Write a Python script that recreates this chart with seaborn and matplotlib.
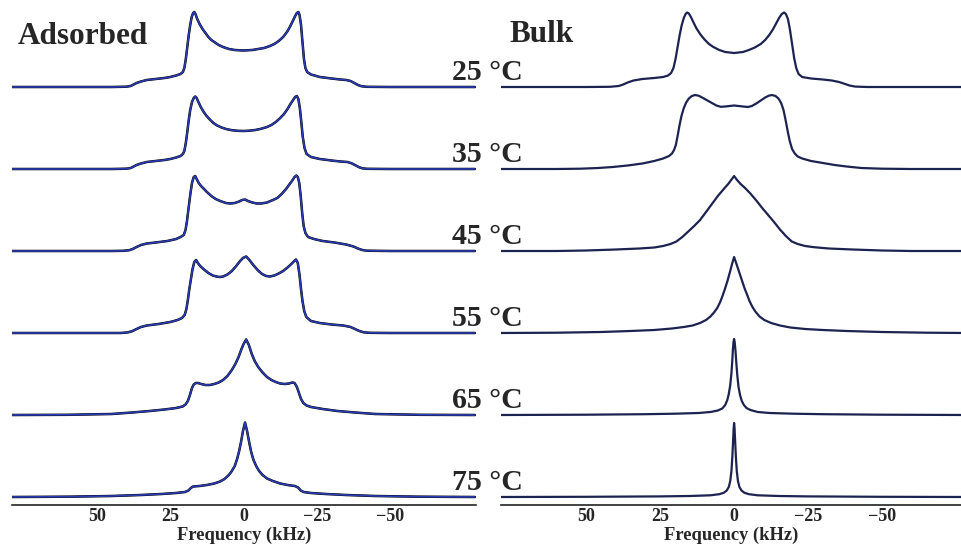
import matplotlib
matplotlib.use("Agg")
import matplotlib.pyplot as plt
import seaborn as sns
import pandas as pd

# ---------------- data ----------------
temps = ["25 °C", "35 °C", "45 °C", "55 °C", "65 °C", "75 °C"]
tick_values = [50, 25, 0, -25, -50]
tick_labels = ["50", "25", "0", "\u221225", "\u221250"]

# Adsorbed spectra: frequency (kHz) and intensity (arb.)
ads_f_25 = [79, 60, 45, 40, 38.5, 37.5, 36.5, 35, 33, 30, 27, 25, 23, 21.5, 20.7, 20.2, 19.7, 19.2, 18.7, 18.2, 17.7,
            17.2, 16.8, 16.4, 15.8, 15, 14, 13, 12, 11, 10, 8.5, 7, 5, 3, 0,
            -3, -5, -7, -9, -10.5, -12, -13.5, -14.8, -15.8, -16.8, -17.6, -18.2, -18.7, -19.1, -19.6, -20.1,
            -20.6, -21.1, -21.7, -23, -26, -30, -33, -35, -36.5, -37.8, -39, -40.2, -42, -50, -79]
ads_i_25 = [0, 0, 0, 0.3, 1, 2.5, 4, 5.5, 7, 8, 9, 10, 11.5, 13, 15, 19, 28, 40, 52, 62, 70,
            74, 75, 73, 68, 63, 58, 54, 50, 47, 45, 42, 40, 38, 37, 36.5,
            37, 38, 39, 41, 43, 46, 50, 55, 60, 66, 71, 74, 75, 72, 62, 45,
            28, 19, 15, 12.5, 10, 8.5, 7.5, 7, 6, 4, 2, 0.8, 0.2, 0, 0]
ads_f_35 = [79, 60, 45, 40, 38.5, 37.5, 36.5, 35, 33, 30, 27, 25, 23, 21.5, 20.7, 20.2, 19.7, 19.2, 18.7, 18.2, 17.6,
            17, 16.5, 16, 15.4, 14.6, 13.6, 12.6, 11.5, 10.3, 9, 7.5, 6, 4, 2, 0,
            -2, -4, -6, -8, -9.5, -11, -12.5, -13.8, -15, -16, -16.9, -17.6, -18.2, -18.7, -19.2, -19.7,
            -20.2, -20.8, -21.5, -23, -26, -30, -33, -35.5, -37, -38.3, -39.4, -40.5, -42, -50, -79]
ads_i_35 = [0, 0, 0, 0.3, 1, 2.5, 4, 5.5, 7, 8, 9, 10, 11.5, 13, 15, 18, 26, 37, 49, 59, 67,
            71, 72.5, 71, 67, 62, 57, 53, 49.5, 46, 43.5, 41.5, 40, 38.8, 38.2, 38,
            38.3, 39, 40.2, 42, 44, 47, 51, 55, 60, 65, 69, 72, 73, 70, 61, 47,
            32, 21, 15, 12, 10, 8.5, 7.5, 7, 5.5, 3.5, 1.8, 0.7, 0.2, 0, 0]
ads_f_45 = [79, 60, 45, 41, 39, 37.8, 36.5, 35, 33, 30, 26, 23, 21.5, 20.4, 19.8, 19.3, 18.8, 18.2, 17.6, 17,
            16.5, 16, 15.3, 14.5, 13.5, 12.5, 11, 9.5, 8, 6, 4.5, 3, 1.5, 0.5,
            -0.5, -1.5, -3, -4.5, -6, -8, -10, -11.5, -13, -14.5, -15.5, -16.5, -17.4, -18, -18.5, -19, -19.5,
            -20, -20.5, -21.1, -22, -24, -27, -31, -35, -37.5, -39, -40.5, -42, -50, -79]
ads_i_45 = [0, 0, 0, 0.2, 0.8, 2, 4, 6, 7.5, 8.5, 10, 12, 14, 16, 21, 30, 42, 56, 68, 74,
            75, 72, 68, 65, 62, 59, 55, 52, 50, 48, 47.5, 48, 49.5, 51,
            51.5, 50, 48.5, 47.5, 47.5, 48.5, 51, 53, 57, 62, 66, 70, 74, 75.5, 74, 68, 55,
            38, 25, 18, 14, 12, 10, 8.5, 6.5, 4.5, 2.5, 1, 0.3, 0, 0]
ads_f_55 = [79, 60, 45, 42, 39.5, 38, 36.5, 35, 33, 29, 25, 22.5, 21, 20.1, 19.5, 19, 18.5, 17.9, 17.4, 16.8,
            16.2, 15.6, 14.8, 13.5, 12, 10.5, 9, 8, 7, 5.5, 4, 2.5, 1.2, 0.2, -0.9,
            -2, -3.3, -4.8, -6.3, -7.7, -9, -10.5, -12, -13.5, -15, -16.3, -17.3, -17.9, -18.5, -19.1, -19.6,
            -20.1, -20.7, -21.4, -23, -26, -30, -34, -36.5, -38, -39.5, -41, -43, -50, -79]
ads_i_55 = [0, 0, 0, 0, 0.6, 1.8, 4, 6, 7.5, 9, 11, 13, 15, 18, 24, 33, 44, 55, 64, 71,
            73, 70, 67, 63.5, 60, 57.5, 56.3, 56, 56.5, 58.5, 62, 67, 72, 75, 76.5,
            73, 68, 63, 59, 57, 56.5, 57.5, 59.5, 62, 65.5, 69, 72, 73.5, 70, 58, 44,
            32, 22, 16, 12, 10, 8.5, 7.5, 6, 4, 2, 0.7, 0.2, 0, 0]
ads_f_65 = [79, 60, 45, 38, 32, 27, 23, 20.8, 19.8, 19, 18.3, 17.6, 17, 16.3, 15.5, 14.5, 13, 11.5, 10, 8.5,
            7, 5.5, 4, 2.8, 1.7, 0.7, 0, -0.9, -1.8, -2.8, -3.8, -5, -6.5, -8, -9.5, -11, -12.5, -14,
            -15.5, -16.6, -17.4, -18.2, -18.9, -19.6, -20.4, -21.5, -23, -27, -32, -38, -45, -60, -79]
ads_i_65 = [0, 0.2, 1, 2.5, 4, 5.5, 7, 8.5, 10.5, 14, 20, 27, 30.5, 32, 32, 31, 30, 30, 31, 32.5,
            35, 39, 45, 51, 58, 66, 71, 75.5, 70, 61, 54, 48, 42.5, 38, 35, 33, 31.5, 31,
            31.5, 32.5, 32, 28, 22, 16, 12, 9.5, 8, 6, 4, 2.5, 1, 0.2, 0]
ads_f_75 = [79, 60, 45, 35, 28, 23, 20, 18.8, 18, 17.2, 15, 12.5, 10, 8, 6.5, 5, 4, 3, 2.2, 1.5, 0.8, 0.2,
            -0.5, -1.2, -1.9, -2.6, -3.4, -4.3, -5.3, -6.5, -8, -10, -12.5, -15, -17.5, -18.6, -19.5,
            -20.5, -23, -28, -35, -45, -60, -79]
ads_i_75 = [0, 0.3, 1, 2, 3, 4, 5, 6.5, 9, 10.5, 11, 12, 13.5, 15.5, 18, 22, 26, 31, 38, 46, 56, 66,
            74.5, 66, 55, 45, 37, 31, 26, 22, 18.5, 16, 13.5, 12, 11, 9.5, 6.5,
            5, 4, 3, 2, 1, 0.3, 0]

# Bulk spectra
blk_f_25 = [79, 50, 42, 39, 37.5, 36, 34, 31, 27, 24, 22.3, 21.3, 20.5, 19.8, 19.1, 18.4, 17.7, 17, 16.4, 15.9,
            15.3, 14.6, 13.8, 12.8, 11.5, 10, 8.5, 7, 5, 3, 0,
            -3, -5, -7, -9, -10.5, -12, -13.2, -14.2, -15.2, -16.1, -16.9, -17.5, -18.2, -18.9, -19.6, -20.3,
            -21, -21.8, -23, -26, -30, -33, -35.5, -37.5, -39, -41, -45, -79]
blk_i_25 = [0, 0, 0.2, 1, 2.5, 4.5, 6.5, 8, 9, 10, 11.5, 14, 19, 28, 40, 52, 62, 69, 73, 74.5,
            73.5, 70, 65, 59, 53, 47.5, 43, 40, 37, 35, 34,
            35, 37, 39.5, 43, 47, 52.5, 58, 63.5, 69, 73, 74.5, 73, 68, 57, 43, 29,
            19, 13, 10, 8.5, 7.5, 6.5, 5, 3, 1.5, 0.4, 0, 0]
blk_f_35 = [79, 60, 52, 46, 41, 36, 31, 27, 24, 22, 21, 20.3, 19.7, 19.1, 18.5, 17.8, 17, 16.2, 15.3, 14.3,
            13.2, 12, 10.5, 9, 7.5, 6, 4.5, 3, 1.5, 0, -1.5, -3, -4.7, -6, -7.5, -9, -10.5, -11.7, -12.8,
            -14, -15, -15.9, -16.7, -17.4, -18.1, -18.8, -19.6, -20.5, -21.5, -23, -26, -30, -34, -38, -43,
            -50, -60, -79]
blk_i_35 = [0, 0, 0.3, 1, 2, 3.5, 5.5, 8, 10.5, 13, 15.5, 19, 24, 33, 43, 53, 61, 66.5, 70.5, 73,
            74, 73.3, 71, 68.5, 66, 63.5, 62.2, 62.5, 63, 63.5, 63, 62.5, 62, 63, 65.5, 68.5, 71.5, 73.3, 74,
            73, 70.5, 66, 59, 49, 38, 28, 20, 15.5, 12.5, 10.5, 8, 6, 4, 2.5, 1,
            0.3, 0, 0]
blk_f_45 = [79, 60, 50, 40, 32, 27, 24, 21.5, 19.5, 17.5, 15.5, 13.5, 11.5, 9.5, 7.5, 5.5, 3.5, 2, 1, 0,
            -1, -2.2, -3.7, -5.5, -7.5, -9.5, -11.5, -13.5, -15.5, -17.5, -19.5, -21.5, -24, -27, -32, -40,
            -50, -60, -79]
blk_i_45 = [0, 0, 0.5, 1.5, 2.5, 3.5, 5, 7, 9.5, 14, 19.5, 25, 31, 39, 47, 55, 62, 67, 71, 75,
            71, 67, 63, 57.5, 50.5, 43, 36, 29, 21.5, 15, 9.5, 7, 5, 3.8, 2.5, 1.5,
            0.5, 0, 0]
blk_f_55 = [79, 60, 45, 35, 27, 21, 17, 14, 11.5, 9.5, 8, 6.8, 5.7, 4.7, 3.8, 3, 2.2, 1.4, 0.7, 0,
            -0.8, -1.7, -2.6, -3.5, -4.3, -5.2, -6.2, -7.3, -8.6, -10.2, -12.5, -15.5, -19, -24, -30, -38,
            -50, -65, -79]
blk_i_55 = [0, 0.3, 1, 2, 3, 4.5, 6, 7.5, 10, 13, 16.5, 20.5, 25, 31, 38, 45, 52.5, 61, 69, 76,
            69, 61, 53, 45, 39, 32, 26, 21, 16.5, 13, 10, 7.5, 5.5, 4, 3, 2,
            1, 0.3, 0]
blk_f_65 = [79, 50, 30, 20, 12, 8, 5.5, 4, 3, 2.3, 1.8, 1.3, 0.9, 0.6, 0.4, 0.2, 0, -0.2, -0.5, -0.8,
            -1.1, -1.5, -2, -2.6, -3.3, -4.2, -5.5, -8, -12, -20, -30, -50, -79]
blk_i_65 = [0, 0.3, 0.8, 1.3, 2, 3, 4.5, 6.5, 10, 15, 21, 30, 42, 55, 66, 73, 76, 73, 63, 50,
            39, 28, 20, 14, 10, 7, 5, 3, 2, 1.3, 0.8, 0.3, 0]
blk_f_75 = [79, 50, 25, 15, 8, 5, 3.5, 2.5, 1.8, 1.3, 0.9, 0.6, 0.35, 0.15, 0, -0.15, -0.35, -0.6, -0.9,
            -1.3, -1.8, -2.5, -3.5, -5, -8, -15, -25, -50, -79]
blk_i_75 = [0, 0.2, 0.6, 1, 1.7, 2.8, 4.2, 6.5, 10, 16, 26, 40, 56, 69, 74, 69, 56, 40, 26,
            16, 10, 6.5, 4.2, 2.8, 1.7, 1, 0.6, 0.2, 0]

ads_f = [ads_f_25, ads_f_35, ads_f_45, ads_f_55, ads_f_65, ads_f_75]
ads_i = [ads_i_25, ads_i_35, ads_i_45, ads_i_55, ads_i_65, ads_i_75]
blk_f = [blk_f_25, blk_f_35, blk_f_45, blk_f_55, blk_f_65, blk_f_75]
blk_i = [blk_i_25, blk_i_35, blk_i_45, blk_i_55, blk_i_65, blk_i_75]

# ---------------- layout ----------------
W, H = 961, 548
SPACING = 82.0
BASE = 8.0


def build(fs, ins):
    rows = []
    for k, (f, v) in enumerate(zip(fs, ins)):
        off = BASE + (len(fs) - 1 - k) * SPACING
        for a, b in zip(f, v):
            rows.append({"f": a, "y": b + off, "temp": temps[k]})
    return pd.DataFrame(rows)


df_ads = build(ads_f, ads_i)
df_blk = build(blk_f, blk_i)

sns.set_style("white")
plt.rcParams["font.family"] = ["Liberation Serif", "DejaVu Serif"]
plt.rcParams["font.weight"] = "bold"

fig = plt.figure(figsize=(W / 100, H / 100), dpi=100)
ax1 = fig.add_axes([12 / W, 43 / H, 464 / W, 505 / H])
ax2 = fig.add_axes([501 / W, 43 / H, 460 / W, 505 / H])

sns.lineplot(data=df_ads, x="f", y="y", units="temp", estimator=None, sort=False,
             color="black", linewidth=1.8, ax=ax1)
sns.lineplot(data=df_ads, x="f", y="y", units="temp", estimator=None, sort=False,
             color="#2a3cb4", linewidth=1.2, ax=ax1)
sns.lineplot(data=df_blk, x="f", y="y", units="temp", estimator=None, sort=False,
             color="#1c2350", linewidth=1.6, ax=ax2)

ax1.set_xlim(79, -79.3)
ax2.set_xlim(78.8, -76.7)
for ax in (ax1, ax2):
    ax.set_ylim(0, 505)
    ax.set_facecolor("none")
    for s in ("left", "right", "top"):
        ax.spines[s].set_visible(False)
    ax.spines["bottom"].set_color("#222222")
    ax.spines["bottom"].set_linewidth(1.2)
    ax.set_yticks([])
    ax.set_ylabel("")
    ax.set_xticks(tick_values)
    ax.set_xticklabels(tick_labels, fontsize=13, fontweight="bold")
    ax.tick_params(axis="x", direction="in", length=5, width=1.0, color="#222222", pad=2.5)
    ax.set_xlabel("Frequency (kHz)", fontsize=13.3, fontweight="bold")
    ax.xaxis.set_label_coords(0.5, -0.0426)

fig.text(18 / W, 1 - 37 / H, "Adsorbed", fontsize=22.5, fontweight="bold", ha="left", va="center")
fig.text(510 / W, 1 - 35 / H, "Bulk", fontsize=22.5, fontweight="bold", ha="left", va="center")
for k, t in enumerate(temps):
    ypx = 73 + k * SPACING
    fig.text(487 / W, 1 - ypx / H, t, fontsize=21.5, fontweight="bold", ha="center", va="center")

fig.savefig("out.png", dpi=100, facecolor="white")
